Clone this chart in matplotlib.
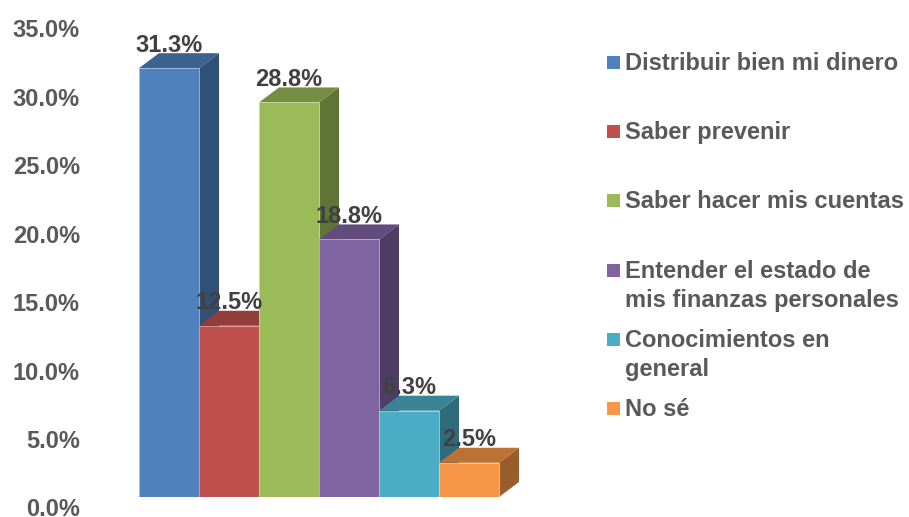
import numpy as np
import matplotlib
matplotlib.use("Agg")
from matplotlib import pyplot as plt
from matplotlib import transforms
from matplotlib.patches import Polygon, Rectangle
from matplotlib.colors import to_rgb

plt.rcParams['font.family'] = ['Liberation Sans', 'DejaVu Sans']

categories = [
    "Distribuir bien mi dinero",
    "Saber prevenir",
    "Saber hacer mis cuentas",
    "Entender el estado de\nmis finanzas personales",
    "Conocimientos en\ngeneral",
    "No sé",
]
values = [31.3, 12.5, 28.8, 18.8, 6.3, 2.5]
colors = ["#4F81BD", "#C0504D", "#9BBB59", "#8064A2", "#4BACC6", "#F79646"]
yticks = [0, 5, 10, 15, 20, 25, 30, 35]

W, H = 909, 517
PX_PER_PCT = 13.7          # vertical scale of the bar area
DEPTH_X = 20 / 60          # depth offset, in bar widths
DEPTH_Y = 15 / PX_PER_PCT  # depth offset, in percent units
LABEL_GRAY = "#595959"
VALUE_GRAY = "#404040"


def shade(color, k):
    return tuple(np.clip(np.array(to_rgb(color)) * k, 0, 1))


def tint(color, k):
    c = np.array(to_rgb(color))
    return tuple(c + (1 - c) * k)


fig = plt.figure(figsize=(W / 100, H / 100), dpi=100)

# bar area in pixels: x 139..519, baseline at y=497
ymax = 36
ax = fig.add_axes([139 / W, 20 / H, 380 / W, ymax * PX_PER_PCT / H])
ax.set_xlim(0, 380 / 60)
ax.set_ylim(0, ymax)
ax.axis('off')

for i, (v, c) in enumerate(zip(values, colors)):
    x0, x1 = i, i + 1
    side = Polygon([(x1, 0), (x1 + DEPTH_X, DEPTH_Y), (x1 + DEPTH_X, v + DEPTH_Y), (x1, v)],
                   closed=True, facecolor=shade(c, 0.62), edgecolor='none', zorder=2)
    top = Polygon([(x0, v), (x0 + DEPTH_X, v + DEPTH_Y), (x1 + DEPTH_X, v + DEPTH_Y), (x1, v)],
                  closed=True, facecolor=shade(c, 0.76), edgecolor='none', zorder=2)
    front = Rectangle((x0, 0), 1, v, facecolor=c, edgecolor=tint(c, 0.45), lw=0.6, zorder=2)
    ax.add_patch(side)
    ax.add_patch(top)
    ax.add_patch(front)
    ax.text(x0 + 0.5, v + DEPTH_Y + 0.1, f"{v:.1f}%", ha='center', va='baseline',
            fontsize=17, fontweight='bold', color=VALUE_GRAY, zorder=5)

# y tick labels, shifted below the front plane like the 3D back wall
tick_tf = transforms.offset_copy(ax.get_yaxis_transform(), fig=fig, x=-59, y=-13, units='dots')
for t in yticks:
    ax.text(0, t, f"{t:.1f}%", transform=tick_tf, ha='right', va='center',
            fontsize=17, fontweight='bold', color=LABEL_GRAY, clip_on=False)

# legend drawn in pixel coordinates, one text per line
lg = fig.add_axes([0, 0, 1, 1])
lg.set_xlim(0, W)
lg.set_ylim(H, 0)
lg.axis('off')
lg.patch.set_alpha(0)
for i, (name, c) in enumerate(zip(categories, colors)):
    base = 70 + i * 69.2
    lg.add_patch(Rectangle((607, base - 14), 13, 13, facecolor=c, edgecolor='none'))
    for k, line in enumerate(name.split("\n")):
        lg.text(625, base + k * 29, line, ha='left', va='baseline', fontsize=17,
                fontweight='bold', color=LABEL_GRAY)

fig.savefig("out.png", dpi=100)
